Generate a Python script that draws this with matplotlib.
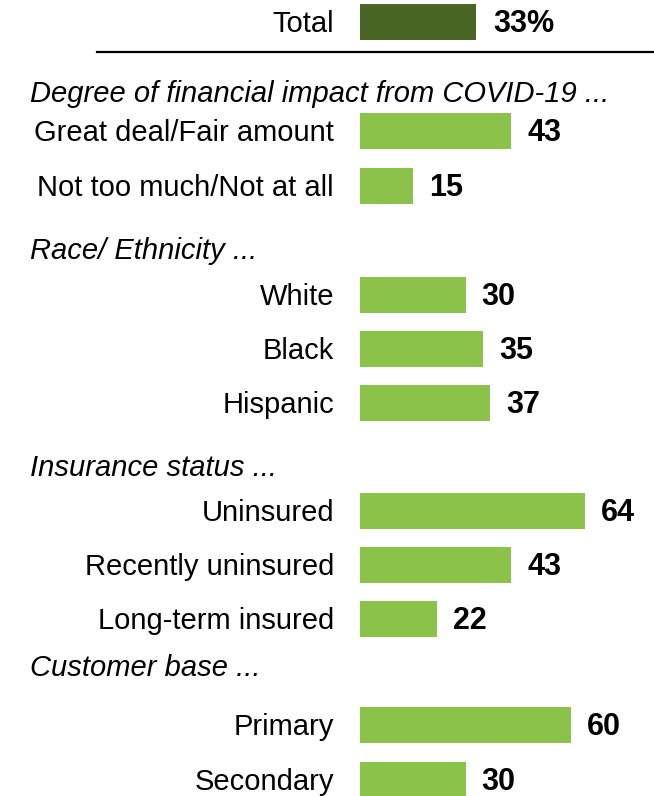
import matplotlib
matplotlib.use("Agg")
import matplotlib.pyplot as plt

plt.rcParams['font.family'] = ['Liberation Sans', 'DejaVu Sans']

total_label = "Total"
total_value = 33

groups = [
    "Degree of financial impact from COVID-19 ...",
    "Race/ Ethnicity ...",
    "Insurance status ...",
    "Customer base ...",
]
categories = [
    ["Great deal/Fair amount", "Not too much/Not at all"],
    ["White", "Black", "Hispanic"],
    ["Uninsured", "Recently uninsured", "Long-term insured"],
    ["Primary", "Secondary"],
]
values = [
    [43, 15],
    [30, 35, 37],
    [64, 43, 22],
    [60, 30],
]

# layout (pixel rows)
header_y = [92, 249, 466, 666]
row_y = [
    [131, 186],
    [295, 349, 403],
    [511, 565, 619],
    [725, 780],
]
total_y = 22

W, H = 654, 796
fig = plt.figure(figsize=(W / 100, H / 100), dpi=100)
ax = fig.add_axes([0, 0, 1, 1])
px_per_unit = 3.52
x0 = 360
ax.set_xlim(-x0 / px_per_unit, (W - x0) / px_per_unit)
ax.set_ylim(H, 0)
ax.axis('off')

dark = '#4a6624'
light = '#8bc34a'
fs = 21
vfs = 22
bh = 36
dy = 2
label_x = (334 - x0) / px_per_unit
gap = 16 / px_per_unit

ax.barh(total_y, total_value, height=bh, color=dark, left=0)
ax.text(label_x, total_y + dy, total_label, ha='right', va='center', fontsize=fs)
ax.text(total_value + gap + 0.3, total_y + dy, f"{total_value}%", ha='left', va='center',
        fontsize=vfs, fontweight='bold')

ax.plot([(97 - x0) / px_per_unit, (W - x0) / px_per_unit], [52, 52], color='black', lw=1.6)

for g, hy, cats, vals, ys in zip(groups, header_y, categories, values, row_y):
    ax.text((30 - x0) / px_per_unit, hy + dy, g, ha='left', va='center', fontsize=fs,
            fontstyle='italic')
    for c, v, y in zip(cats, vals, ys):
        ax.barh(y, v, height=bh, color=light, left=0)
        ax.text(label_x, y + dy, c, ha='right', va='center', fontsize=fs)
        ax.text(v + gap, y + dy, f"{v}", ha='left', va='center', fontsize=vfs, fontweight='bold')

fig.savefig("out.png", dpi=100)
